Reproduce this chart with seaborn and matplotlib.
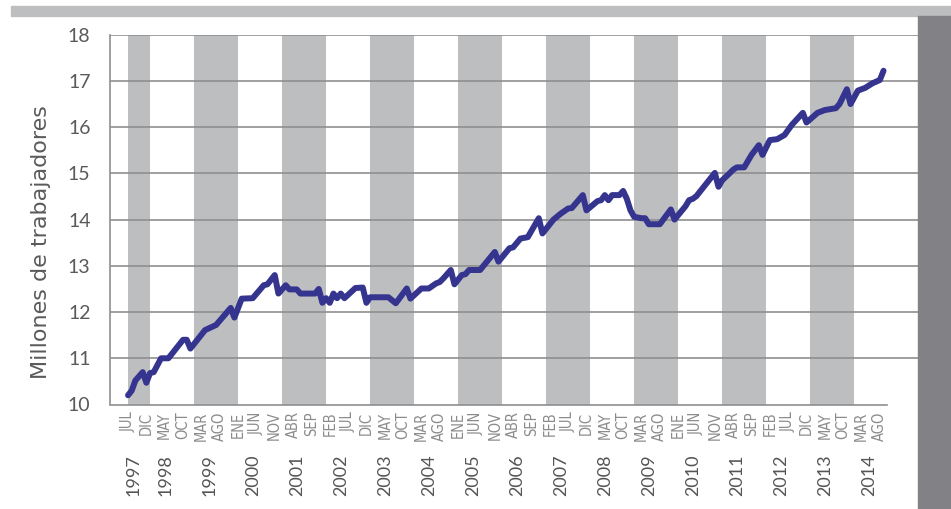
import matplotlib
matplotlib.use("Agg")
import matplotlib.pyplot as plt
from matplotlib.patches import Rectangle
from matplotlib import font_manager
import seaborn as sns
import pandas as pd

# ---------------- data ----------------
dates = [
    "1997-07", "1997-08", "1997-09", "1997-11", "1997-12", "1998-01", "1998-02", "1998-04",
    "1998-06", "1998-10", "1998-11", "1998-12", "1999-04", "1999-07", "1999-11", "1999-12",
    "2000-02", "2000-05", "2000-08", "2000-09", "2000-11", "2000-12", "2001-02", "2001-03",
    "2001-05", "2001-06", "2001-10", "2001-11", "2001-12", "2002-01", "2002-02", "2002-03",
    "2002-04", "2002-05", "2002-06", "2002-09", "2002-11", "2002-12", "2003-01", "2003-06",
    "2003-08", "2003-11", "2003-12", "2004-03", "2004-05", "2004-07", "2004-08", "2004-09",
    "2004-11", "2004-12", "2005-02", "2005-03", "2005-04", "2005-07", "2005-11", "2005-12",
    "2006-03", "2006-04", "2006-06", "2006-08", "2006-11", "2006-12", "2007-03", "2007-05",
    "2007-07", "2007-08", "2007-11", "2007-12", "2008-03", "2008-04", "2008-05", "2008-06",
    "2008-07", "2008-09", "2008-10", "2008-11", "2008-12", "2009-01", "2009-03", "2009-04",
    "2009-05", "2009-08", "2009-11", "2009-12", "2010-03", "2010-04", "2010-05", "2010-06",
    "2010-11", "2010-12", "2011-01", "2011-03", "2011-04", "2011-05", "2011-07", "2011-09",
    "2011-11", "2011-12", "2012-02", "2012-04", "2012-06", "2012-08", "2012-11", "2012-12",
    "2013-03", "2013-05", "2013-08", "2013-09", "2013-11", "2013-12", "2014-02", "2014-04",
    "2014-06", "2014-08", "2014-09",
]
trabajadores = [
    10.20, 10.30, 10.52, 10.70, 10.47, 10.68, 10.70, 11.00,
    11.00, 11.40, 11.40, 11.21, 11.61, 11.72, 12.09, 11.88,
    12.29, 12.30, 12.58, 12.60, 12.80, 12.40, 12.58, 12.49,
    12.49, 12.40, 12.40, 12.50, 12.20, 12.30, 12.20, 12.40,
    12.30, 12.40, 12.30, 12.52, 12.53, 12.20, 12.32, 12.32,
    12.19, 12.51, 12.29, 12.51, 12.51, 12.62, 12.65, 12.73,
    12.91, 12.60, 12.80, 12.82, 12.91, 12.91, 13.30, 13.09,
    13.38, 13.40, 13.59, 13.62, 14.03, 13.70, 14.00, 14.13,
    14.24, 14.25, 14.53, 14.20, 14.40, 14.42, 14.53, 14.42,
    14.53, 14.53, 14.62, 14.45, 14.20, 14.06, 14.03, 14.03,
    13.90, 13.90, 14.22, 14.00, 14.29, 14.42, 14.45, 14.51,
    15.01, 14.71, 14.85, 15.00, 15.08, 15.13, 15.13, 15.40,
    15.61, 15.40, 15.72, 15.74, 15.83, 16.05, 16.31, 16.10,
    16.31, 16.37, 16.41, 16.50, 16.82, 16.50, 16.79, 16.85,
    16.95, 17.02, 17.22,
]
month_tick_start = "1997-07"      # first month tick; one tick every 5 months
month_tick_labels = [
    "JUL", "DIC", "MAY", "OCT", "MAR", "AGO", "ENE", "JUN", "NOV", "ABR", "SEP", "FEB",
    "JUL", "DIC", "MAY", "OCT", "MAR", "AGO", "ENE", "JUN", "NOV", "ABR", "SEP", "FEB",
    "JUL", "DIC", "MAY", "OCT", "MAR", "AGO", "ENE", "JUN", "NOV", "ABR", "SEP", "FEB",
    "JUL", "DIC", "MAY", "OCT", "MAR", "AGO",
]
years = list(range(1997, 2015))
y_ticks = [10, 11, 12, 13, 14, 15, 16, 17, 18]
y_label = "Millones de trabajadores"

# ---------------- helpers ----------------
def ym_to_x(s):
    y, m = s.split("-")
    return int(y) + (int(m) - 1) / 12.0

df = pd.DataFrame({"x": [ym_to_x(d) for d in dates], "valor": trabajadores})
tick_x0 = ym_to_x(month_tick_start)
tick_pos = [tick_x0 + 5 * k / 12.0 for k in range(len(month_tick_labels))]

# ---------------- style ----------------
sns.set_theme(style="white")
avail = {f.name for f in font_manager.fontManager.ttflist}
main_font = "Lato" if "Lato" in avail else "DejaVu Sans"
has_condensed = any(f.name == "DejaVu Sans" and f.stretch == "condensed"
                    for f in font_manager.fontManager.ttflist)
plt.rcParams["font.family"] = [main_font, "DejaVu Sans"]

W, H = 951, 509
fig = plt.figure(figsize=(W / 100, H / 100), dpi=100)
fig.patch.set_facecolor("white")

# decorative frame pieces
fig.patches.append(Rectangle((11 / W, 1 - 16 / H), 1 - 11 / W, 10 / H,
                             transform=fig.transFigure, color="#bdbec0", zorder=0))
fig.patches.append(Rectangle((918 / W, 0), 1 - 918 / W, 1 - 16 / H,
                             transform=fig.transFigure, color="#818186", zorder=0))

ax_left, ax_right = 110 / W, 918 / W
ax_bottom, ax_top = 1 - 404.5 / H, 1 - 34.7 / H
ax = fig.add_axes([ax_left, ax_bottom, ax_right - ax_left, ax_top - ax_bottom])
ax.set_facecolor("white")

x_min, x_max = 1997.09, 2015.45
ax.set_xlim(x_min, x_max)
ax.set_ylim(10, 18)

# alternate gray bands for odd years
for yr in years:
    if yr % 2 == 1:
        start = max(yr, tick_x0)
        ax.axvspan(start, yr + 1, color="#bdbec0", lw=0, zorder=0)

# horizontal grid lines
for yv in y_ticks[1:]:
    ax.axhline(yv, color="#8f8f8f", lw=1.2, zorder=1)

sns.lineplot(data=df, x="x", y="valor", ax=ax, color="#35348f", lw=4.3,
             solid_capstyle="round", solid_joinstyle="round", zorder=3)

# spines
for s in ["top", "right"]:
    ax.spines[s].set_visible(False)
ax.spines["left"].set_color("#8f8f8f")
ax.spines["left"].set_linewidth(1.2)
ax.spines["bottom"].set_color("#8f8f8f")
ax.spines["bottom"].set_linewidth(1.2)
ax.spines["bottom"].set_bounds(x_min, 2014.75)

# ticks
ax.set_yticks(y_ticks)
ax.set_yticklabels([str(v) for v in y_ticks], fontsize=14, color="#5a5a5a")
ax.tick_params(axis="y", length=0, pad=14)
ax.set_xticks(tick_pos)
if has_condensed:
    ax.set_xticklabels(month_tick_labels, rotation=90, fontsize=10.5,
                       color="#8c8c8c", family="DejaVu Sans", stretch="condensed")
else:
    ax.set_xticklabels(month_tick_labels, rotation=90, fontsize=10.5,
                       color="#8c8c8c")
ax.tick_params(axis="x", length=0, pad=5)

ax.set_xlabel("")
ax.set_ylabel(y_label, fontsize=16, color="#5a5a5a", family=["DejaVu Sans"])
ax.yaxis.set_label_coords(-0.073, 0.44)

# year labels below month labels
trans = ax.get_xaxis_transform()
for yr in years:
    xp = 1997.62 if yr == 1997 else yr + 0.35
    ax.text(xp, -0.135, str(yr), transform=trans, rotation=90, ha="center",
            va="top", fontsize=13, color="#555555", clip_on=False)

fig.savefig("out.png", dpi=100, facecolor="white")
